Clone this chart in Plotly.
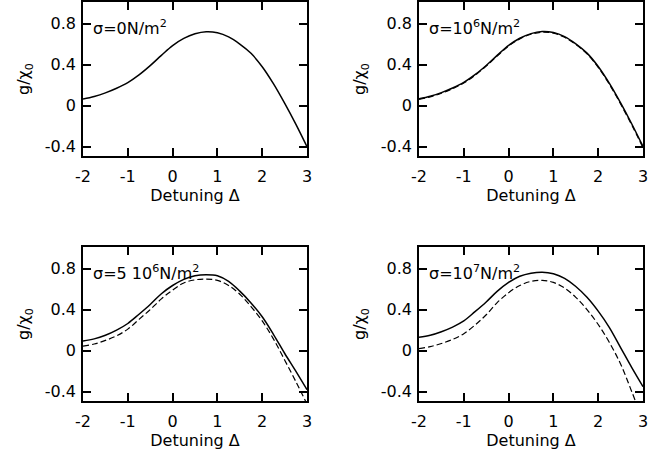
import plotly.graph_objects as go

# detuning grid shared by all curves
detuning = [-2.0, -1.75, -1.5, -1.25, -1.0, -0.75, -0.5, -0.25, 0.0, 0.25, 0.5,
            0.75, 1.0, 1.25, 1.5, 1.75, 2.0, 2.25, 2.5, 2.75, 3.0]

# panel a: sigma = 0
a_solid = [0.065, 0.09, 0.125, 0.17, 0.225, 0.30, 0.39, 0.49, 0.585, 0.655, 0.70,
           0.72, 0.71, 0.67, 0.60, 0.51, 0.38, 0.215, 0.025, -0.18, -0.40]
# panel b: sigma = 1e6 (two curves almost on top of each other)
b_solid = [0.067, 0.092, 0.127, 0.172, 0.227, 0.302, 0.392, 0.492, 0.587, 0.657, 0.702,
           0.722, 0.712, 0.672, 0.602, 0.512, 0.382, 0.217, 0.027, -0.178, -0.397]
b_dash = [0.061, 0.086, 0.121, 0.166, 0.221, 0.296, 0.386, 0.486, 0.581, 0.651, 0.696,
          0.716, 0.706, 0.666, 0.596, 0.505, 0.374, 0.208, 0.017, -0.189, -0.41]
# panel c: sigma = 5e6
c_solid = [0.094, 0.115, 0.15, 0.20, 0.265, 0.355, 0.45, 0.555, 0.635, 0.695, 0.73,
           0.74, 0.73, 0.675, 0.58, 0.465, 0.33, 0.16, -0.025, -0.20, -0.38]
c_dash = [0.045, 0.065, 0.10, 0.145, 0.21, 0.305, 0.40, 0.505, 0.59, 0.66, 0.69,
          0.697, 0.685, 0.635, 0.55, 0.43, 0.29, 0.115, -0.09, -0.30, -0.52]
# panel d: sigma = 1e7
d_solid = [0.13, 0.15, 0.185, 0.23, 0.29, 0.38, 0.475, 0.58, 0.665, 0.725, 0.755,
           0.765, 0.75, 0.705, 0.625, 0.52, 0.385, 0.225, 0.03, -0.165, -0.35]
d_dash = [0.02, 0.04, 0.07, 0.11, 0.165, 0.25, 0.35, 0.47, 0.565, 0.635, 0.675,
          0.685, 0.665, 0.61, 0.52, 0.40, 0.255, 0.08, -0.13, -0.40, -0.68]

labels = ["σ=0N/m<sup>2</sup>", "σ=10<sup>6</sup>N/m<sup>2</sup>",
          "σ=5 10<sup>6</sup>N/m<sup>2</sup>", "σ=10<sup>7</sup>N/m<sup>2</sup>"]

W, H = 672, 457
font = dict(family="DejaVu Sans, sans-serif", size=16, color="black")

# panel boxes in pixels: left, right, top, bottom
boxes = [(83, 307, 2, 156), (419, 643, 2, 156), (83, 307, 247, 401), (419, 643, 247, 401)]
panels = [(a_solid, None), (b_solid, b_dash), (c_solid, c_dash), (d_solid, d_dash)]

fig = go.Figure()
for i, ((solid, dash), (l, r, t, b)) in enumerate(zip(panels, boxes)):
    n = "" if i == 0 else str(i + 1)
    xa, ya = "x" + n, "y" + n
    if dash is not None:
        fig.add_trace(go.Scatter(x=detuning, y=dash, xaxis=xa, yaxis=ya, mode="lines",
                                 line=dict(color="black", width=1.2, dash="6px,3px", shape="spline"),
                                 showlegend=False))
    fig.add_trace(go.Scatter(x=detuning, y=solid, xaxis=xa, yaxis=ya, mode="lines",
                             line=dict(color="black", width=1.5, shape="spline"),
                             showlegend=False))
    common = dict(showline=True, linecolor="black", linewidth=1.5, mirror="ticks",
                  ticks="inside", ticklen=8, tickwidth=1.5, tickcolor="black",
                  showgrid=False, zeroline=False, tickfont=font, automargin=False)
    fig.update_layout(**{
        "xaxis" + n: dict(domain=[l / W, r / W], range=[-2, 3], anchor=ya, ticklabelstandoff=5,
                          tickvals=[-2, -1, 0, 1, 2, 3], ticktext=["-2", "-1", "0", "1", "2", "3"],
                          title=dict(text="Detuning Δ", font=font, standoff=2), **common),
        "yaxis" + n: dict(domain=[1 - b / H, 1 - t / H], range=[-0.49, 1.01], anchor=xa,
                          ticklabelstandoff=2,
                          tickvals=[-0.4, 0, 0.4, 0.8], ticktext=["-0.4", "0", "0.4", "0.8"],
                          title=dict(text="g/χ<sub>0</sub>", font=font, standoff=11), **common),
    })
    fig.add_annotation(x=(l + 8) / W, y=1 - (t + 25) / H, xref="paper", yref="paper",
                       text=labels[i], showarrow=False, xanchor="left", yanchor="middle",
                       font=font)

fig.update_layout(width=W, height=H, margin=dict(l=0, r=0, t=0, b=0, autoexpand=False),
                  plot_bgcolor="white", paper_bgcolor="white", font=font)

# the page body has a default 8px margin; drop it so the figure sits at 0,0
fig.write_html("out.html", config={"displayModeBar": False},
               post_script="document.body.style.margin='0';")
